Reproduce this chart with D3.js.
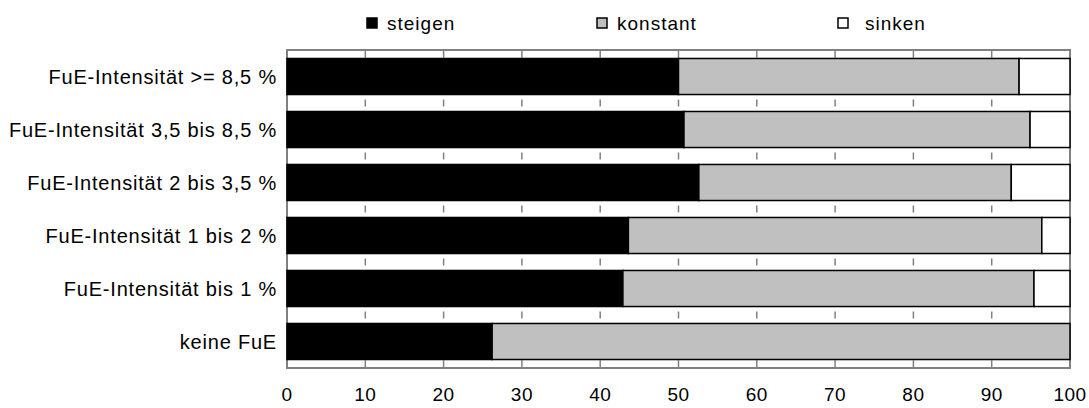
<!DOCTYPE html>
<html>
<head>
<meta charset="utf-8">
<script src="https://cdn.jsdelivr.net/npm/d3@7"></script>
<style>
  body { margin: 0; background: #fff; }
  text { font-family: "Liberation Sans", Arial, sans-serif; fill: #000; }
</style>
</head>
<body>
<div id="chart"></div>
<script>
// Categories (top to bottom) and stacked shares in percent
const categories = [
    "FuE-Intensität >= 8,5 %",
    "FuE-Intensität 3,5 bis 8,5 %",
    "FuE-Intensität 2 bis 3,5 %",
    "FuE-Intensität 1 bis 2 %",
    "FuE-Intensität bis 1 %",
    "keine FuE"
];
const steigen  = [50.0, 50.7, 52.6, 43.6, 42.9, 26.2];
const konstant = [43.5, 44.2, 39.9, 52.8, 52.5, 73.8];
const sinken   = [6.5, 5.1, 7.5, 3.6, 4.6, 0.0];
const seriesNames = ["steigen", "konstant", "sinken"];
const xTicks = [0, 10, 20, 30, 40, 50, 60, 70, 80, 90, 100];

const width = 1089, height = 408;
const margin = {top: 50, right: 19, bottom: 40, left: 287};
const innerW = width - margin.left - margin.right;
const innerH = height - margin.top - margin.bottom;

const svg = d3.select("#chart")
    .append("svg")
    .attr("width", width)
    .attr("height", height);

const g = svg.append("g")
    .attr("transform", `translate(${margin.left},${margin.top})`);

const x = d3.scaleLinear()
    .domain([0, 100])
    .range([0, innerW]);

const y = d3.scaleBand()
    .domain(categories)
    .range([0, innerH])
    .paddingInner(0.32)
    .paddingOuter(0.16);

const color = d3.scaleOrdinal()
    .domain(seriesNames)
    .range(["#000000", "#c0c0c0", "#ffffff"]);

// Build table for stacking
const table = categories.map((c, i) => ({
    cat: c, steigen: steigen[i], konstant: konstant[i], sinken: sinken[i]
}));
const stacked = d3.stack().keys(seriesNames)(table);

// Plot frame
g.append("rect")
    .attr("x", 0)
    .attr("y", 0)
    .attr("width", innerW)
    .attr("height", innerH)
    .attr("fill", "none")
    .attr("stroke", "#808080")
    .attr("stroke-width", 2);

// Small tick marks in the gaps between bars
const gapMids = [];
gapMids.push(y(categories[0]) / 2);
for (let i = 0; i < categories.length - 1; i++) {
    const a = y(categories[i]) + y.bandwidth();
    const b = y(categories[i + 1]);
    gapMids.push((a + b) / 2);
}
gapMids.push((y(categories[categories.length - 1]) + y.bandwidth() + innerH) / 2);

gapMids.forEach(m => {
    g.selectAll(null)
        .data(xTicks.slice(1, -1))
        .enter()
        .append("line")
        .attr("x1", d => x(d))
        .attr("x2", d => x(d))
        .attr("y1", m - 3.5)
        .attr("y2", m + 3.5)
        .attr("stroke", "#808080")
        .attr("stroke-width", 1.5);
});

// Bars
g.selectAll(".series")
    .data(stacked)
    .enter()
    .append("g")
    .attr("class", "series")
    .attr("fill", d => color(d.key))
    .selectAll("rect")
    .data(d => d.filter(v => v[1] - v[0] > 0))
    .enter()
    .append("rect")
    .attr("x", d => x(d[0]))
    .attr("y", d => y(d.data.cat))
    .attr("width", d => x(d[1]) - x(d[0]))
    .attr("height", y.bandwidth())
    .attr("stroke", "#000")
    .attr("stroke-width", 1.5);

// Category labels
g.selectAll(".cat-label")
    .data(categories)
    .enter()
    .append("text")
    .attr("class", "cat-label")
    .attr("x", -10)
    .attr("y", d => y(d) + y.bandwidth() / 2)
    .attr("dy", "0.35em")
    .attr("text-anchor", "end")
    .style("font-size", "20px")
    .style("letter-spacing", "0.8px")
    .text(d => d);

// X axis labels
g.selectAll(".x-label")
    .data(xTicks)
    .enter()
    .append("text")
    .attr("class", "x-label")
    .attr("x", d => x(d))
    .attr("y", innerH + 26)
    .attr("dy", "0.35em")
    .attr("text-anchor", "middle")
    .style("font-size", "19px")
    .style("letter-spacing", "0.5px")
    .text(d => d);

// Legend
const legendX = [367, 597, 838];
const legend = svg.append("g");
seriesNames.forEach((s, i) => {
    legend.append("rect")
        .attr("x", legendX[i])
        .attr("y", 18)
        .attr("width", 10)
        .attr("height", 10)
        .attr("fill", color(s))
        .attr("stroke", "#000")
        .attr("stroke-width", 1.5);
    legend.append("text")
        .attr("x", legendX[i] + (i === 2 ? 27 : 20))
        .attr("y", 23)
        .attr("dy", "0.35em")
        .style("font-size", "19px")
        .style("letter-spacing", "1px")
        .text(s);
});
</script>
</body>
</html>
